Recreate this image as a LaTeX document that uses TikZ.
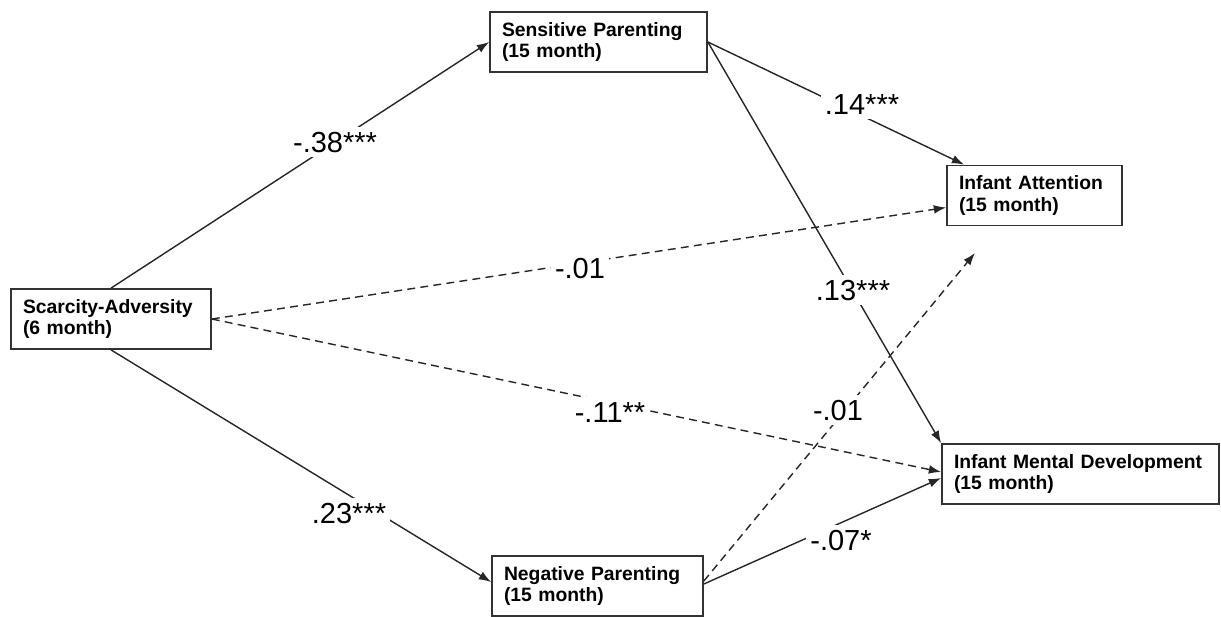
\documentclass[tikz,border=0pt]{standalone}
\usepackage{fontspec}
\setsansfont{Liberation Sans}
\usetikzlibrary{arrows.meta,calc}
\begin{document}
\begin{tikzpicture}[x=0.02cm,y=-0.02cm,font=\sffamily,
  var/.style={draw=black!80,line width=1pt,fill=white,align=left,inner xsep=0.24cm,inner ysep=2pt,minimum height=1.2cm,font=\sffamily\bfseries\fontsize{11}{12.5}\selectfont},
  coef/.style={fill=white,inner sep=2.5pt,text height=11.8pt,text depth=0pt,font=\sffamily\fontsize{16.5}{18}\selectfont},
  eff/.style={line width=0.8pt,draw=black!85,-{Latex[length=7pt,width=5pt]}},
  nseff/.style={eff,dash pattern=on 4.5pt off 3pt}]
\useasboundingbox (0,0) rectangle (1221,616);
% variables
\node[var,text width=3.52cm] (scar) at (111,319) {Scarcity-Adversity\\(6 month)};
\node[var,text width=3.86cm] (sens) at (598.5,42) {Sensitive Parenting\\(15 month)};
\node[var,text width=3.74cm] (neg) at (597.5,586) {Negative Parenting\\(15 month)};
\node[var,text width=3.02cm] (att) at (1034.5,195.5) {Infant Attention\\(15 month)};
\node[var,text width=5.06cm] (ment) at (1080.5,474) {Infant Mental Development\\(15 month)};
\coordinate (tipA) at (975,253);
% paths
\draw[eff] (scar.north) -- (sens.west);
\draw[eff] (scar.south) -- ($(neg.west)+(0,-4)$);
\draw[eff] (sens.east) -- ($(att.north west)+(18,0)$);
\draw[eff] (sens.east) -- (ment.north west);
\draw[nseff] (scar.east) -- ($(att.west)+(0,12)$);
\draw[nseff] (scar.east) -- ($(ment.west)+(0,-2)$);
\draw[nseff] ($(neg.east)+(0,-5)$) -- (tipA);
\draw[eff] ($(neg.east)+(0,-2)$) -- ($(ment.west)+(0,4)$);
% coefficients
\node[coef] (c1) at (335,142) {-.38***};
\node[coef] (c2) at (349,513) {.23***};
\node[coef] (c3) at (862,104) {.14***};
\node[coef] (c4) at (853,290) {.13***};
\node[coef] (c5) at (580,268) {-.01};
\node[coef] (c6) at (610,412) {-.11**};
\node[coef] (c7) at (838,410) {-.01};
\node[coef] (c8) at (841,540) {-.07*};
\end{tikzpicture}
\end{document}
